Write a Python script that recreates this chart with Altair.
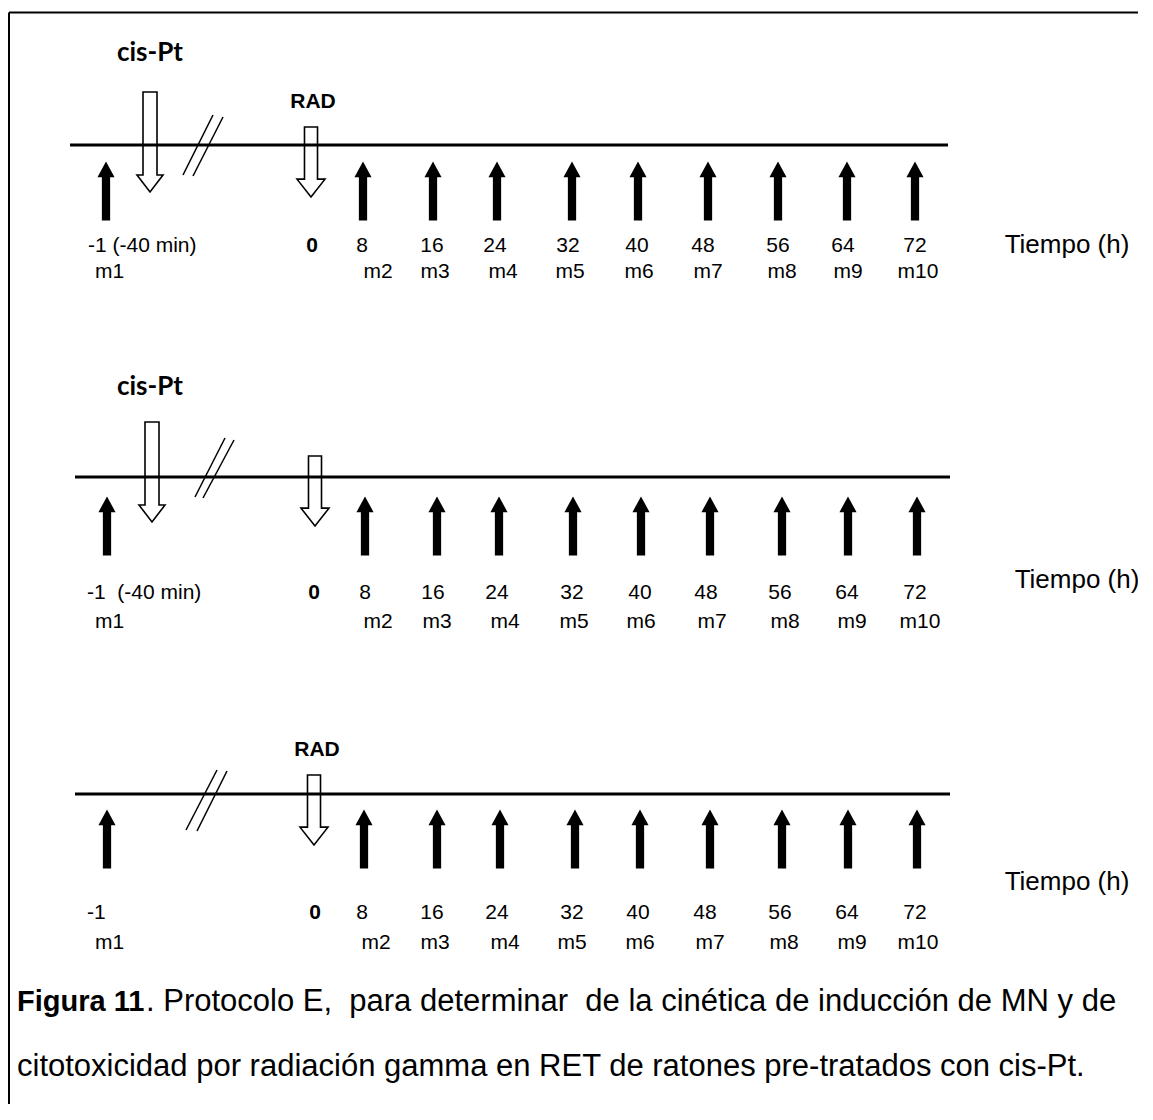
import altair as alt
import pandas as pd

# ---------------- data (positions in figure pixels) ----------------
panel = [1, 2, 3]
line_y = [145, 477, 794]
line_x0 = [70, 75, 75]
line_x1 = [948, 950, 950]

# sampling arrows (filled), one row per panel
sample_arrow_x = [
    [106, 363, 433, 497, 572, 638, 708, 778, 847, 915],
    [107, 365, 437, 499, 573, 641, 710, 782, 848, 917],
    [107, 364, 437, 500, 575, 640, 710, 782, 848, 917],
]
sample_arrow_y = [191, 526, 839]

# time labels
first_time_label = ["-1 (-40 min)", "-1 \u00a0(-40 min)", "-1"]
first_label_x = [88, 87, 87]
zero_label = "0"
zero_x = [312, 314, 315]
hours = ["8", "16", "24", "32", "40", "48", "56", "64", "72"]
hour_x = [
    [362, 432, 495, 568, 637, 703, 778, 843, 915],
    [365, 433, 497, 572, 640, 706, 780, 847, 915],
    [362, 432, 497, 572, 638, 705, 780, 847, 915],
]
hour_y = [246, 593, 913]

samples = ["m1", "m2", "m3", "m4", "m5", "m6", "m7", "m8", "m9", "m10"]
m1_x = [95, 95, 95]
sample_x = [
    [378, 435, 503, 570, 639, 708, 782, 848, 918],
    [378, 437, 505, 574, 641, 712, 785, 852, 920],
    [376, 435, 505, 572, 640, 710, 784, 852, 918],
]
sample_y = [272, 622, 943]

axis_title = "Tiempo (h)"
tiempo_x = [1067, 1077, 1067]
tiempo_y = [245, 580, 882]

# treatment (open) arrows
treat_x = [150, 311, 152, 315, 314]
treat_y = [142, 162, 472, 491, 810]
treat_kind = ["long", "short", "long", "short", "short"]

# treatment labels
cis_label = "cis-Pt"
cis_x = [150, 150]
cis_y = [53, 387]
rad_label = "RAD"
rad_x = [313, 317]
rad_y = [102, 750]

# time-break slashes
slash_x = [183, 193, 195, 203, 186, 197]
slash_y = [175, 176, 497, 498, 830, 831]
slash_x2 = [213, 223, 225, 234, 217, 227]
slash_y2 = [115, 117, 438, 440, 770, 771]

# caption
caption_bold = "Figura 11"
caption_line1 = ". Protocolo E, \u00a0para determinar \u00a0de la cinética de inducción de MN y de"
caption_line2 = "citotoxicidad por radiación gamma en RET de ratones pre-tratados con cis-Pt."
caption_x = [17, 146, 17]
caption_y = [1002, 1002, 1067]

# frame (top and left edges)
frame_x = [9, 9]
frame_y = [12.5, 12.5]
frame_x2 = [1138, 9]
frame_y2 = [12.5, 1104]

# ---------------- build tables ----------------
lines_df = pd.DataFrame({"x": line_x0, "x2": line_x1, "y": line_y})

arr_rows = []
for p in range(3):
    for xv in sample_arrow_x[p]:
        arr_rows.append({"x": xv, "y": sample_arrow_y[p]})
arrows_df = pd.DataFrame(arr_rows)

hour_rows, samp_rows, first_rows, zero_rows, m1_rows, tiempo_rows = [], [], [], [], [], []
for p in range(3):
    for h, xv in zip(hours, hour_x[p]):
        hour_rows.append({"x": xv, "y": hour_y[p], "t": h})
    for s, xv in zip(samples[1:], sample_x[p]):
        samp_rows.append({"x": xv, "y": sample_y[p], "t": s})
    first_rows.append({"x": first_label_x[p], "y": hour_y[p], "t": first_time_label[p]})
    m1_rows.append({"x": m1_x[p], "y": sample_y[p], "t": samples[0]})
    zero_rows.append({"x": zero_x[p], "y": hour_y[p], "t": zero_label})
    tiempo_rows.append({"x": tiempo_x[p], "y": tiempo_y[p], "t": axis_title})

treat_df = pd.DataFrame({"x": treat_x, "y": treat_y, "k": treat_kind})
cis_df = pd.DataFrame({"x": cis_x, "y": cis_y, "t": [cis_label] * 2})
rad_df = pd.DataFrame({"x": rad_x, "y": rad_y, "t": [rad_label] * 2})
slash_df = pd.DataFrame({"x": slash_x, "y": slash_y, "x2": slash_x2, "y2": slash_y2})
frame_df = pd.DataFrame({"x": frame_x, "y": frame_y, "x2": frame_x2, "y2": frame_y2})
cap_bold_df = pd.DataFrame({"x": [caption_x[0]], "y": [caption_y[0]], "t": [caption_bold]})
cap_reg_df = pd.DataFrame({"x": caption_x[1:], "y": caption_y[1:], "t": [caption_line1, caption_line2]})

# ---------------- scales ----------------
XS = alt.Scale(domain=[8, 1138], nice=False, zero=False)
YS = alt.Scale(domain=[8, 1104], nice=False, zero=False, reverse=True)


def X(f="x"):
    return alt.X(f, type="quantitative", scale=XS, axis=None)


def Y(f="y"):
    return alt.Y(f, type="quantitative", scale=YS, axis=None)


FONT = "Liberation Sans"

# shapes (unit square -1..1, scaled by sqrt(size))
filled_arrow = "M0,-1 L0.29,-0.47 L0.14,-0.47 L0.14,1 L-0.14,1 L-0.14,-0.47 L-0.29,-0.47 Z"
open_long = "M-0.14,-1 L0.14,-1 L0.14,0.66 L0.26,0.66 L0,1 L-0.26,0.66 L-0.14,0.66 Z"
open_short = "M-0.186,-1 L0.186,-1 L0.186,0.49 L0.4,0.49 L0,1 L-0.4,0.49 L-0.186,0.49 Z"

frame = alt.Chart(frame_df).mark_rule(color="black", strokeWidth=2).encode(
    x=X(), y=Y(), x2="x2:Q", y2="y2:Q")

timeline = alt.Chart(lines_df).mark_rule(color="black", strokeWidth=3).encode(
    x=X(), x2="x2:Q", y=Y())

slashes = alt.Chart(slash_df).mark_rule(color="black", strokeWidth=1.5).encode(
    x=X(), y=Y(), x2="x2:Q", y2="y2:Q")

arrows = alt.Chart(arrows_df).mark_point(
    shape=filled_arrow, filled=True, color="black", opacity=1, size=59 * 59, strokeWidth=0
).encode(x=X(), y=Y())

open_l = alt.Chart(treat_df).transform_filter(alt.datum.k == "long").mark_point(
    shape=open_long, filled=False, color="black", opacity=1, size=100 * 100, strokeWidth=1.6
).encode(x=X(), y=Y())

open_s = alt.Chart(treat_df).transform_filter(alt.datum.k == "short").mark_point(
    shape=open_short, filled=False, color="black", opacity=1, size=70 * 70, strokeWidth=1.6
).encode(x=X(), y=Y())


def txt(df, align="center", size=21, weight="normal", font=FONT):
    return alt.Chart(pd.DataFrame(df) if isinstance(df, list) else df).mark_text(
        align=align, baseline="middle", font=font, fontSize=size, fontWeight=weight, color="black"
    ).encode(x=X(), y=Y(), text="t:N")


layers = [
    frame, timeline, slashes, arrows, open_l, open_s,
    txt(hour_rows), txt(samp_rows),
    txt(first_rows, align="left"), txt(m1_rows, align="left"),
    txt(zero_rows, weight="bold", size=21),
    txt(tiempo_rows, size=26),
    txt(cis_df, size=26, weight="bold", font="Lato"),
    txt(rad_df, size=21, weight="bold"),
    txt(cap_bold_df, align="left", size=29, weight="bold"),
    txt(cap_reg_df, align="left", size=31),
]

chart = alt.layer(*layers).properties(
    width=1130, height=1096, padding=0, autosize="none", background="white"
).configure_view(stroke=None)

chart.save("out.html", embed_options={"renderer": "svg", "actions": False})
